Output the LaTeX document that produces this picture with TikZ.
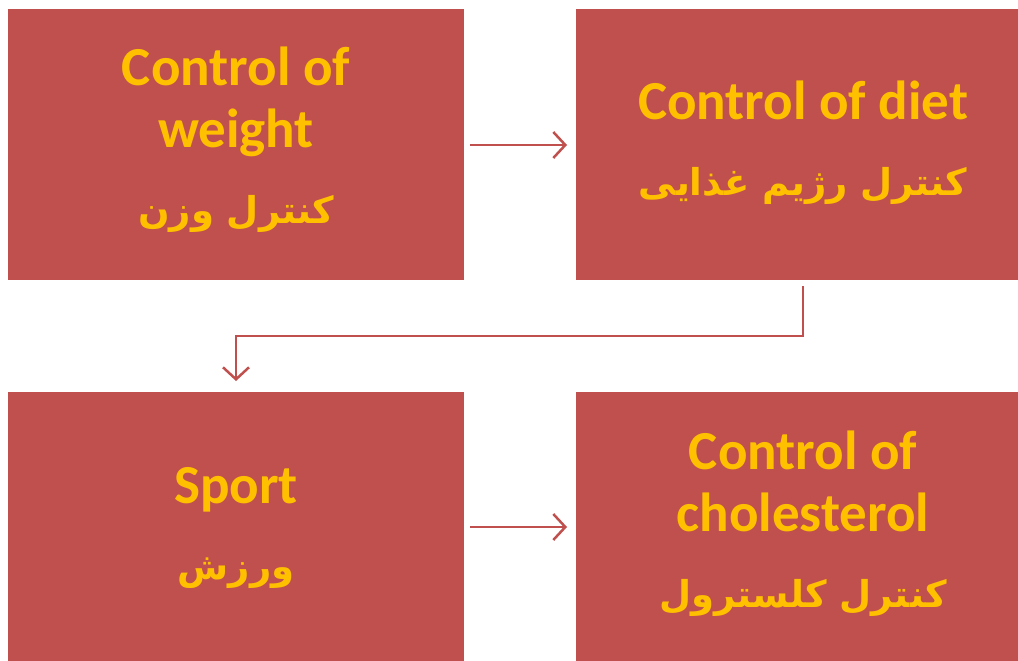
\documentclass[tikz,border=0pt]{standalone}
\usepackage{fontspec}
\setmainfont{Carlito}
\newfontfamily\arabicfont[Script=Arabic]{DejaVu Sans}
\TeXXeTstate=1
\usetikzlibrary{arrows.meta}
\definecolor{boxred}{HTML}{C0504D}
\definecolor{gold}{HTML}{FFC000}
\tikzset{
  x=1pt, y=-1pt,
  panel/.style={fill=boxred, draw=none},
  label/.style={text=gold, font=\bfseries\fontsize{55}{62}\selectfont, align=center, inner sep=0pt},
  flow/.style={draw=boxred, line width=2.5pt, -{Straight Barb[length=12pt,width=26pt,line width=2.5pt]}}
}
\newcommand{\fa}[1]{{\arabicfont\bfseries\fontsize{37}{46}\selectfont\beginR #1\endR}}
\begin{document}
\begin{tikzpicture}
\useasboundingbox (0,0) rectangle (1018,661);
% four panels
\path[panel] (8,9) rectangle (464,280);
\path[panel] (576,9) rectangle (1018,280);
\path[panel] (8,392) rectangle (464,661);
\path[panel] (576,392) rectangle (1018,661);
% panel texts
\node[label] (weight) at (236,140) {Control of\\weight\\[14pt]\fa{کنترل وزن}};
\node[label] (diet) at (803,143) {Control of diet\\[14pt]\fa{کنترل رژیم غذایی}};
\node[label] (sport) at (236,528) {Sport\\[14pt]\fa{ورزش}};
\node[label] (chol) at (803,524) {Control of\\cholesterol\\[14pt]\fa{کنترل کلسترول}};
% connectors
\coordinate (a1) at (470,145);
\coordinate (a2) at (567,145);
\coordinate (b1) at (803,286);
\coordinate (b2) at (236,381);
\coordinate (c1) at (470,527);
\coordinate (c2) at (567,527);
\draw[flow] (a1) -- (a2);
\draw[flow] (b1) -- (803,336) -- (236,336) -- (b2);
\draw[flow] (c1) -- (c2);
\end{tikzpicture}
\end{document}
